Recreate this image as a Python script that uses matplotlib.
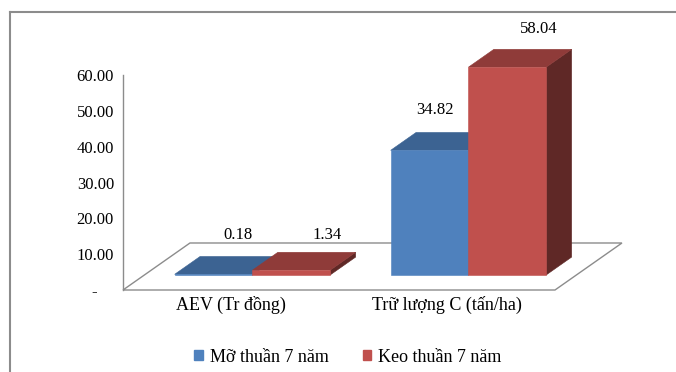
import matplotlib.pyplot as plt
from matplotlib.lines import Line2D
from matplotlib.patches import Patch, Polygon

categories = ["AEV (Tr đồng)", "Trữ lượng C (tấn/ha)"]
series_names = ["Mỡ thuần 7 năm", "Keo thuần 7 năm"]
mo_values = [0.18, 34.82]
keo_values = [1.34, 58.04]
y_ticks = [0, 10, 20, 30, 40, 50, 60]
y_tick_labels = ["-    ", "10.00", "20.00", "30.00", "40.00", "50.00", "60.00"]

# front / top / side shades for each series
series_colors = [
    ("#4f81bd", "#3c6392", "#2f4d72"),
    ("#c0504d", "#8f3b39", "#5f2826"),
]
# small nudges for the value labels (pixels)
label_shift = [[(-1, 21), (10, 17)], [(-20, 22), (6, 20)]]

plt.rcParams["font.family"] = ["Liberation Serif", "DejaVu Serif"]

# oblique projection of the floor depth
DX, DY = 0.310, 13.13
D0, D1 = 0.32, 0.70
BAR_W = 0.36
PX_X, PX_Y = 216.0, 3.58  # pixels per category / per unit
X0_PX, Y0_PX = 123, 290


def shift(x, v, d):
    return (x + d * DX, v + d * DY)


fig = plt.figure(figsize=(6.76, 3.72), dpi=100)
ax = fig.add_axes([0, 0, 1, 1])
ax.set_xlim(-X0_PX / PX_X, (676 - X0_PX) / PX_X)
ax.set_ylim(-(372 - Y0_PX) / PX_Y, Y0_PX / PX_Y)

for side in ["top", "right", "bottom"]:
    ax.spines[side].set_visible(False)
ax.spines["left"].set_position(("data", 0))
ax.spines["left"].set_bounds(0, 60)
ax.spines["left"].set_color("#8c8c8c")
ax.spines["left"].set_linewidth(1.0)
ax.set_yticks(y_ticks)
ax.set_yticklabels(y_tick_labels)
ax.tick_params(axis="y", length=0, pad=6.5, labelsize=12)
ax.set_xticks([])

# floor outline
floor = Polygon([(0, 0), (2, 0), shift(2, 0, 1), shift(0, 0, 1)],
                closed=True, fill=False, edgecolor="#8c8c8c", lw=1.0)
ax.add_patch(floor)

values = [mo_values, keo_values]
for i in range(len(categories)):
    for j in range(len(series_names)):
        v = values[j][i]
        x0 = i + 0.5 - BAR_W + j * BAR_W
        x1 = x0 + BAR_W
        front_c, top_c, side_c = series_colors[j]
        side_face = [shift(x1, 0, D0), shift(x1, 0, D1), shift(x1, v, D1), shift(x1, v, D0)]
        top_face = [shift(x0, v, D0), shift(x1, v, D0), shift(x1, v, D1), shift(x0, v, D1)]
        front_face = [shift(x0, 0, D0), shift(x1, 0, D0), shift(x1, v, D0), shift(x0, v, D0)]
        for pts, c in [(side_face, side_c), (top_face, top_c), (front_face, front_c)]:
            ax.add_patch(Polygon(pts, closed=True, facecolor=c, edgecolor=c, lw=0.4))
        dx, dy = label_shift[i][j]
        ax.annotate(f"{v:.2f}", xy=shift((x0 + x1) / 2, v, D1), xytext=(dx, dy),
                    textcoords="offset pixels", ha="center", va="center", fontsize=12)

for i, cat in enumerate(categories):
    ax.annotate(cat, xy=(i + 0.5, 0), xytext=(0, -15), textcoords="offset pixels",
                ha="center", va="center", fontsize=13)

handles = [Patch(facecolor=c[0], edgecolor=c[0]) for c in series_colors]
fig.legend(handles, series_names, loc="center", bbox_to_anchor=(348 / 676, 1 - 357 / 372),
           ncol=2, frameon=False, fontsize=13, handlelength=0.46, handleheight=0.46,
           handletextpad=0.4, columnspacing=1.9)

# outer chart frame
fig.add_artist(Line2D([10 / 676, 1], [1 - 12 / 372] * 2, transform=fig.transFigure,
                      color="#8c8c8c", lw=1.5))
fig.add_artist(Line2D([10 / 676] * 2, [0, 1 - 12 / 372], transform=fig.transFigure,
                      color="#8c8c8c", lw=1.5))

fig.savefig("out.png", dpi=100)
